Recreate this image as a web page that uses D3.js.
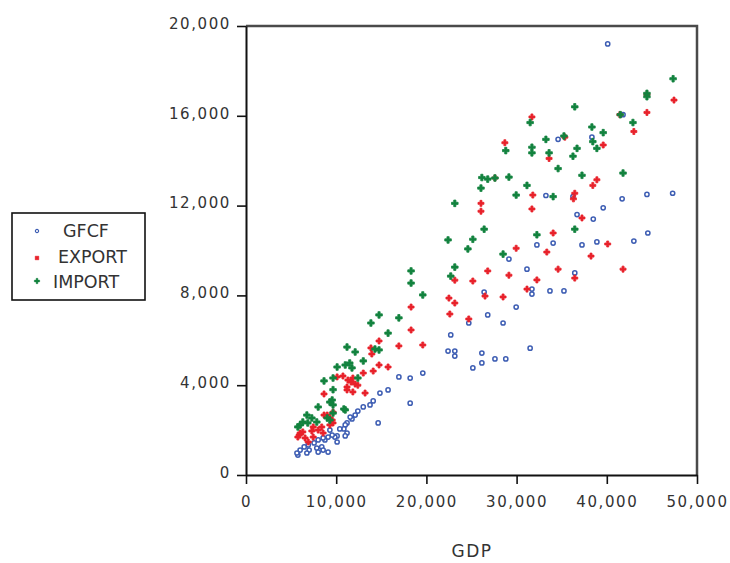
<!DOCTYPE html>
<html>
<head>
<meta charset="utf-8">
<script src="https://cdn.jsdelivr.net/npm/d3@7"></script>
<style>
  body { margin: 0; background: #fff; }
  text { font-family: "DejaVu Sans", sans-serif; fill: #333; }
</style>
</head>
<body>
<svg id="chart" width="730" height="563"></svg>
<script>
// tick values
var xTicks = [0, 10000, 20000, 30000, 40000, 50000];
var yTicks = [0, 4000, 8000, 12000, 16000, 20000];
var seriesNames = ["GFCF", "EXPORT", "IMPORT"];

// [GDP, value] pairs
var gfcfPoints = [
  [40100, 19200], [47300, 12550], [44450, 12500], [44550, 10780], [41700, 12300],
  [39600, 11900], [36700, 11600], [38500, 11400], [38350, 15050], [41800, 16050],
  [34600, 14950], [33250, 12450], [36250, 12400], [34050, 10330], [37250, 10250],
  [38900, 10380], [43000, 10420], [32250, 10250], [36450, 9000], [29150, 9620],
  [31150, 9170], [33700, 8200], [35250, 8200], [31700, 8280], [31700, 8060],
  [26400, 8150], [29950, 7480], [26800, 7130], [24700, 6770], [28500, 6770],
  [22700, 6240], [31500, 5650], [22400, 5520], [23150, 5520], [23150, 5300],
  [26150, 5430], [27600, 5170], [28800, 5170], [26150, 4990], [25150, 4770],
  [19600, 4540], [18200, 4320], [16950, 4370], [18200, 3200], [15750, 3790],
  [14850, 3650], [14100, 3300], [13750, 3120], [13000, 3030], [12400, 2850],
  [12100, 2670], [11750, 2500], [11200, 2320], [14650, 2320], [11000, 2230],
  [10850, 2050], [11550, 2580], [11200, 1870], [11000, 1740], [10100, 1740],
  [9850, 1690], [10100, 1470], [8750, 1560], [10400, 2050], [9300, 2000],
  [9550, 1780], [9100, 1690], [8550, 1650], [8000, 1560], [7550, 1430],
  [6900, 1340], [6450, 1250], [6000, 1110], [5750, 890], [7850, 1200],
  [8000, 1020], [8400, 1250], [7000, 1110], [6750, 980], [8550, 1110],
  [9100, 1020], [5650, 980]
];

var exportPoints = [
  [47450, 16700], [44450, 16150], [44450, 16950], [41450, 16050], [43000, 15300],
  [39600, 14700], [35350, 15050], [33600, 14100], [31700, 15950], [28700, 14800],
  [38900, 13150], [38450, 12900], [36450, 12550], [36300, 12300], [37250, 11450],
  [34050, 10780], [33350, 9930], [40100, 10290], [38250, 9750], [34600, 9170],
  [41800, 9170], [36450, 8770], [31800, 12470], [26050, 12100], [26050, 11750],
  [31700, 11850], [29950, 10100], [26800, 9090], [25150, 8640], [29150, 8900],
  [32250, 8690], [31150, 8280], [27600, 13230], [26500, 7970], [28500, 7930],
  [22500, 7880], [23150, 7660], [22600, 7170], [24700, 6950], [19600, 5790],
  [18300, 7480], [18300, 6460], [16950, 5750], [14750, 5970], [13850, 5660],
  [13950, 5390], [14750, 4900], [15750, 4810], [14100, 4630], [13000, 4540],
  [11850, 4320], [11650, 4140], [12100, 4050], [10750, 4410], [11200, 3920],
  [11200, 3790], [11850, 3700], [13200, 3650], [8650, 3610], [12400, 4000],
  [9650, 2800], [9650, 2320], [9000, 2670], [9300, 2540], [9300, 2230],
  [8400, 2140], [8000, 2000], [7450, 2140], [7300, 1960], [5900, 1780],
  [6300, 1920], [6550, 1650], [6900, 1470], [6000, 1870], [5750, 1690],
  [7450, 1690], [8650, 2670], [9550, 2450], [8550, 1870], [10100, 4370],
  [11300, 4230], [23150, 8680]
];

var importPoints = [
  [47350, 17650], [44450, 17000], [44450, 16850], [36450, 16400], [41500, 16050],
  [42900, 15700], [38350, 15500], [39600, 15250], [38450, 14850], [38900, 14550],
  [33250, 14950], [35250, 15100], [33600, 14350], [36700, 14550], [36250, 14200],
  [34600, 13650], [37250, 13350], [41800, 13450], [34050, 12400], [36450, 10950],
  [32250, 10700], [31500, 15700], [31700, 14600], [31700, 14350], [28800, 14450],
  [26150, 13250], [26800, 13180], [27600, 13230], [29150, 13270], [26050, 12780],
  [31150, 12900], [29950, 12470], [23150, 12100], [26400, 10950], [22400, 10470],
  [25150, 10500], [24600, 10070], [28500, 9840], [23150, 9260], [22700, 8860],
  [19600, 8020], [18300, 9090], [18300, 8550], [16950, 7000], [14750, 7130],
  [13850, 6770], [15750, 6320], [11200, 5700], [12100, 5480], [14300, 5610],
  [14750, 5570], [13000, 5080], [10100, 4810], [11000, 4900], [11750, 4770],
  [8650, 4190], [9650, 4320], [12400, 4320], [9650, 3800], [9550, 3340],
  [9650, 3120], [10850, 2940], [9300, 3250], [8000, 3030], [6750, 2670],
  [7300, 2540], [6000, 2230], [6300, 2360], [6850, 2320], [7850, 2360],
  [5750, 2140], [9300, 2450], [9000, 2540], [9650, 2760], [11500, 4990],
  [11000, 2900]
];

var svg = d3.select("#chart");

var x = d3.scaleLinear().domain([0, 50000]).range([246, 697]);
var y = d3.scaleLinear().domain([0, 20000]).range([475, 26]);
var fmt = d3.format(",");

// frame (top and right)
svg.append("path")
  .attr("d", "M" + x(0) + "," + y(20000) + "H" + x(50000) + "V" + y(0))
  .attr("fill", "none")
  .attr("stroke", "#4a4a4a")
  .attr("stroke-width", 2.5);

var xAxis = svg.append("g")
  .attr("transform", "translate(0," + y(0) + ")")
  .call(d3.axisBottom(x).tickValues(xTicks).tickFormat(fmt).tickSize(9).tickSizeOuter(0).tickPadding(12));

var yAxis = svg.append("g")
  .attr("transform", "translate(" + x(0) + ",0)")
  .call(d3.axisLeft(y).tickValues(yTicks).tickFormat(fmt).tickSize(9).tickSizeOuter(0).tickPadding(6));

[xAxis, yAxis].forEach(function(a) {
  a.select(".domain").attr("stroke", "#111").attr("stroke-width", 2);
  a.selectAll(".tick line").attr("stroke", "#111").attr("stroke-width", 1.6);
  a.selectAll(".tick text")
    .style("font-family", "DejaVu Sans, sans-serif")
    .style("font-size", "15px")
    .style("letter-spacing", "1.6px")
    .attr("fill", "#333");
});
yAxis.selectAll(".tick text").attr("dy", "0.15em");

svg.append("text")
  .attr("x", 472)
  .attr("y", 557)
  .attr("text-anchor", "middle")
  .style("font-size", "17px")
  .style("letter-spacing", "1.5px")
  .text("GDP");

var blue = "#3d5db3", red = "#e8222b", green = "#13833f";

function drawSeries(pts, shape, size, col, hollow) {
  svg.append("g").selectAll("path")
    .data(pts)
    .enter().append("path")
    .attr("transform", function(d) { return "translate(" + x(d[0]) + "," + y(d[1]) + ")"; })
    .attr("d", d3.symbol().type(shape).size(size))
    .attr("fill", hollow ? "#fff" : col)
    .attr("stroke", col)
    .attr("stroke-width", hollow ? 1.5 : 0.8);
}

drawSeries(gfcfPoints, d3.symbolCircle, 14, blue, true);
drawSeries(exportPoints, d3.symbolCross, 20, red, false);
drawSeries(importPoints, d3.symbolCross, 24, green, false);

// legend
var legend = svg.append("g");
legend.append("rect")
  .attr("x", 12).attr("y", 213)
  .attr("width", 133).attr("height", 87)
  .attr("fill", "#fff")
  .attr("stroke", "#111")
  .attr("stroke-width", 1.6);

var legendRows = [
  { name: seriesNames[0], ty: 237, tx: 63, my: 231, col: blue, shape: d3.symbolCircle, size: 8, hollow: true },
  { name: seriesNames[1], ty: 263, tx: 58, my: 258, col: red, shape: d3.symbolSquare, size: 14, hollow: false },
  { name: seriesNames[2], ty: 288, tx: 53, my: 281, col: green, shape: d3.symbolCross, size: 16, hollow: false }
];

legendRows.forEach(function(r) {
  legend.append("path")
    .attr("transform", "translate(37," + r.my + ")")
    .attr("d", d3.symbol().type(r.shape).size(r.size))
    .attr("fill", r.hollow ? "#fff" : r.col)
    .attr("stroke", r.col)
    .attr("stroke-width", r.hollow ? 1.2 : 0.4);
  legend.append("text")
    .attr("x", r.tx)
    .attr("y", r.ty)
    .style("font-size", "17.5px")
    .text(r.name);
});
</script>
</body>
</html>
